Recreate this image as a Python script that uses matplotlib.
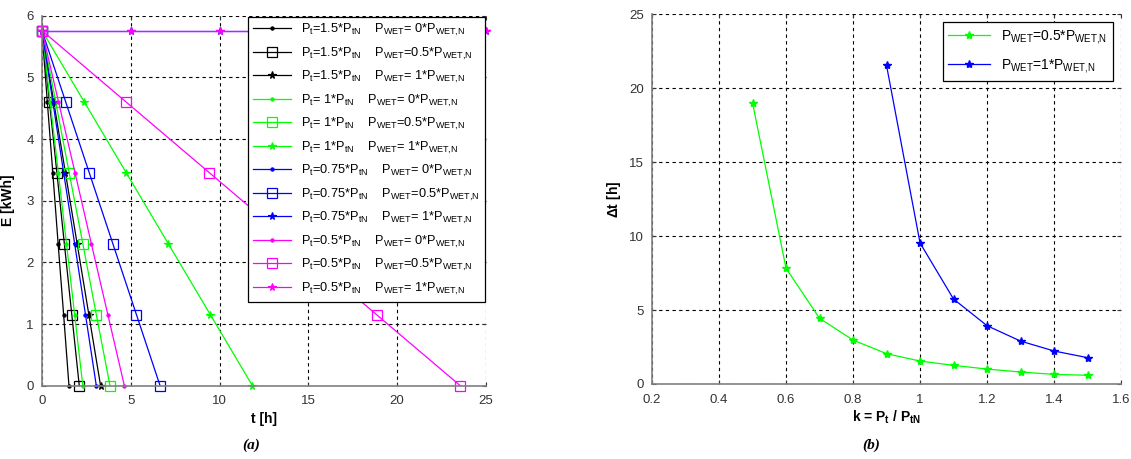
import numpy as np
import matplotlib.pyplot as plt

plt.rcParams['font.family'] = ['Liberation Sans', 'DejaVu Sans']
plt.rcParams['mathtext.fontset'] = 'custom'
plt.rcParams['mathtext.rm'] = 'Liberation Sans'
plt.rcParams['mathtext.default'] = 'regular'

# (a) energy levels at the marker points
E_levels = [5.76, 4.608, 3.456, 2.304, 1.152, 0.0]

# time at each energy level, one list per case (k, P_WET)
t_15_0 = [0, 0.30, 0.61, 0.91, 1.22, 1.52]
t_15_05 = [0, 0.42, 0.84, 1.26, 1.68, 2.10]
t_15_1 = [0, 0.66, 1.32, 1.98, 2.64, 3.30]
t_1_0 = [0, 0.46, 0.92, 1.38, 1.84, 2.30]
t_1_05 = [0, 0.77, 1.53, 2.30, 3.06, 3.83]
t_1_1 = [0, 2.37, 4.74, 7.11, 9.48, 11.85]
t_075_0 = [0, 0.61, 1.22, 1.84, 2.45, 3.06]
t_075_05 = [0, 1.33, 2.66, 3.99, 5.32, 6.65]
t_05_0 = [0, 0.93, 1.86, 2.78, 3.71, 4.64]
t_05_05 = [0, 4.71, 9.42, 14.13, 18.84, 23.55]
# no discharge for these two: energy stays at the top
t_flat = [0, 5, 10, 15, 20, 25]
E_flat = [5.76, 5.76, 5.76, 5.76, 5.76, 5.76]

# (b) discharge time vs k
k_05 = [0.5, 0.6, 0.7, 0.8, 0.9, 1.0, 1.1, 1.2, 1.3, 1.4, 1.5]
dt_05 = [19.0, 7.82, 4.44, 2.97, 2.05, 1.55, 1.26, 1.01, 0.81, 0.65, 0.59]
k_1 = [0.9, 1.0, 1.1, 1.2, 1.3, 1.4, 1.5]
dt_1 = [21.53, 9.53, 5.74, 3.94, 2.90, 2.23, 1.78]

GREEN = '#00ff00'
BLUE = '#0000ff'
MAG = '#ff00ff'

fig = plt.figure(figsize=(11.31, 4.59), dpi=100)
ax1 = fig.add_axes([0.0371, 0.1597, 0.3926, 0.806])
ax2 = fig.add_axes([0.5765, 0.1634, 0.4147, 0.806])


def lab(kt, wet):
    return r'P$_{t}$=' + kt + r'*P$_{tN}$    P$_{WET}$=' + wet + r'*P$_{WET{,}N}$'


series = [
    (t_15_0, E_levels, 'k', '.', lab('1.5', ' 0')),
    (t_15_05, E_levels, 'k', 's', lab('1.5', '0.5')),
    (t_15_1, E_levels, 'k', '*', lab('1.5', ' 1')),
    (t_1_0, E_levels, GREEN, '.', lab(' 1', ' 0')),
    (t_1_05, E_levels, GREEN, 's', lab(' 1', '0.5')),
    (t_1_1, E_levels, GREEN, '*', lab(' 1', ' 1')),
    (t_075_0, E_levels, BLUE, '.', lab('0.75', ' 0')),
    (t_075_05, E_levels, BLUE, 's', lab('0.75', '0.5')),
    (t_flat, E_flat, BLUE, '*', lab('0.75', ' 1')),
    (t_05_0, E_levels, MAG, '.', lab('0.5', ' 0')),
    (t_05_05, E_levels, MAG, 's', lab('0.5', '0.5')),
    (t_flat, E_flat, MAG, '*', lab('0.5', ' 1')),
]
for t, e, c, m, l in series:
    ms = 7 if m == 's' else (5.5 if m == '*' else 4.5)
    ax1.plot(t, e, color=c, marker=m, ms=ms, mfc='none' if m == 's' else c,
             mec=c, mew=0.9, lw=0.9, label=l, clip_on=False)

ax1.set_xlim(0, 25)
ax1.set_ylim(0, 6)
ax1.set_xticks([0, 5, 10, 15, 20, 25])
ax1.set_yticks([0, 1, 2, 3, 4, 5, 6])
ax1.set_xlabel('t [h]', fontweight='bold', fontsize=10, labelpad=3)
ax1.set_ylabel('E [kWh]', fontweight='bold', fontsize=10, labelpad=8)
leg1 = ax1.legend(loc='upper right', fontsize=9.2, handlelength=3.0,
                  labelspacing=0.58, borderaxespad=0.1, fancybox=False,
                  framealpha=1, edgecolor='black')
leg1.get_frame().set_linewidth(0.9)

ax2.plot(k_05, dt_05, color=GREEN, marker='*', ms=6, lw=0.9,
         label=r'P$_{WET}$=0.5*P$_{WET{,}N}$')
ax2.plot(k_1, dt_1, color=BLUE, marker='*', ms=6, lw=0.9,
         label=r'P$_{WET}$=1*P$_{WET{,}N}$')
ax2.set_xlim(0.2, 1.6)
ax2.set_ylim(0, 25)
ax2.set_xticks([0.2, 0.4, 0.6, 0.8, 1.0, 1.2, 1.4, 1.6])
ax2.set_xticklabels(['0.2', '0.4', '0.6', '0.8', '1', '1.2', '1.4', '1.6'])
ax2.set_yticks([0, 5, 10, 15, 20, 25])
ax2.set_xlabel(r'k = P$_{t}$ / P$_{tN}$', fontweight='bold', fontsize=10, labelpad=2)
ax2.set_ylabel(r'$\Delta$t [h]', fontweight='bold', fontsize=10, labelpad=4)
leg2 = ax2.legend(loc='upper right', fontsize=10, handlelength=3.0,
                  labelspacing=0.8, borderaxespad=0.6, fancybox=False,
                  framealpha=1, edgecolor='black')
leg2.get_frame().set_linewidth(0.9)

for ax in (ax1, ax2):
    ax.grid(True, color='black', linestyle=(0, (3, 3)), lw=0.8)
    ax.set_axisbelow(True)
    for s in ('top', 'right'):
        ax.spines[s].set_visible(False)
    for s in ('left', 'bottom'):
        ax.spines[s].set_color('#808080')
        ax.spines[s].set_linewidth(1.2)
    ax.tick_params(direction='in', length=3, labelsize=9.5, colors='#333333',
                   top=True, right=True)
    ax.tick_params(axis='x', pad=7)
    ax.tick_params(axis='y', pad=6)

fig.text(0.222, 0.022, '(a)', fontsize=11, fontweight='bold', style='italic',
         family='Liberation Serif', ha='center')
fig.text(0.770, 0.022, '(b)', fontsize=11, fontweight='bold', style='italic',
         family='Liberation Serif', ha='center')

plt.savefig('out.png', dpi=100)
